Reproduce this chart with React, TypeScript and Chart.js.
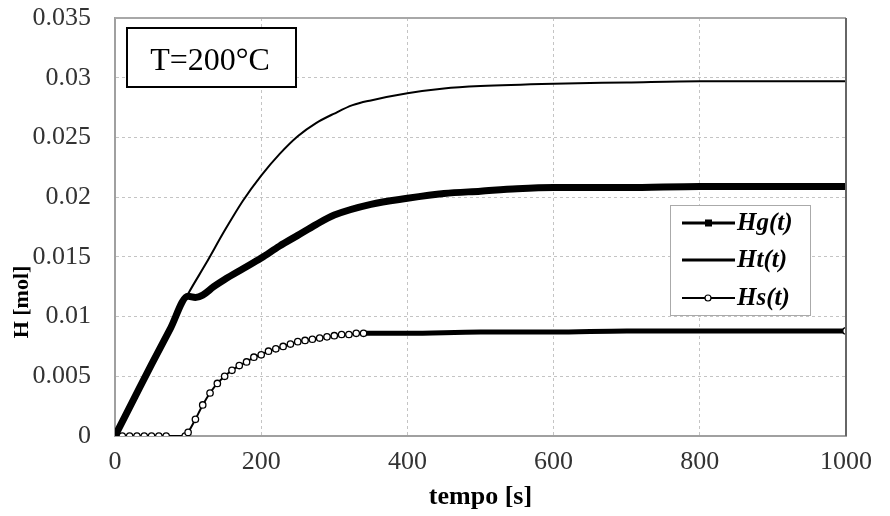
import { useEffect, useRef } from 'react';
import { Chart, registerables } from 'chart.js';

Chart.register(...registerables);

const FONT = "'Liberation Serif', 'Times New Roman', serif";

// ---- data ----
const tempoHg = [0, 25, 50, 75, 100, 110, 120, 135, 150, 175, 200, 225, 250, 275, 300, 350, 400, 450, 500, 550, 600, 700, 800, 900, 1000];
const hg = [0, 0.003, 0.006, 0.0089, 0.0117, 0.0116, 0.0118, 0.0125, 0.0131, 0.014, 0.0149, 0.0159, 0.0168, 0.0177, 0.0185, 0.0194, 0.0199, 0.0203, 0.0205, 0.0207, 0.0208, 0.0208, 0.0209, 0.0209, 0.0209];

const tempoHt = [0, 50, 100, 125, 150, 175, 200, 225, 250, 275, 300, 325, 350, 400, 450, 500, 600, 700, 800, 1000];
const ht = [0, 0.006, 0.0119, 0.0145, 0.0172, 0.0197, 0.0218, 0.0236, 0.0251, 0.0262, 0.027, 0.0277, 0.0281, 0.0287, 0.0291, 0.0293, 0.0295, 0.0296, 0.0297, 0.0297];

const tempoHs = [0, 10, 20, 30, 40, 50, 60, 70, 96, 100, 110, 120, 130, 140, 150, 160, 170, 180, 190, 200, 210, 220, 230, 240, 250, 260, 270, 280, 290, 300, 310, 320, 330, 340, 400, 500, 600, 700, 800, 900, 1000];
const hs = [0, 0, 0, 0, 0, 0, 0, 0, 0, 0.0003, 0.0014, 0.0026, 0.0036, 0.0044, 0.005, 0.0055, 0.0059, 0.0062, 0.0066, 0.0068, 0.0071, 0.0073, 0.0075, 0.0077, 0.0079, 0.008, 0.0081, 0.0082, 0.0083, 0.0084, 0.0085, 0.0085, 0.0086, 0.0086, 0.0086, 0.0087, 0.0087, 0.0088, 0.0088, 0.0088, 0.0088];

const xTicks = [0, 200, 400, 600, 800, 1000];
const yTicks = [0, 0.005, 0.01, 0.015, 0.02, 0.025, 0.03, 0.035];
const seriesNames = ['Hg(t)', 'Ht(t)', 'Hs(t)'];
const xTitle = 'tempo [s]';
const yTitle = 'H [mol]';
const annotation = 'T=200°C';

const toXY = (xs: number[], ys: number[]) => xs.map((x, i) => ({ x, y: ys[i] }));

const decorPlugin = {
  id: 'decor',
  beforeDraw(chart: any) {
    const { ctx } = chart;
    ctx.save();
    ctx.fillStyle = '#fff';
    ctx.fillRect(0, 0, chart.width, chart.height);
    ctx.restore();
  },
  afterDraw(chart: any) {
    const { ctx, chartArea: a } = chart;
    ctx.save();
    // top and right frame
    ctx.setLineDash([]);
    ctx.strokeStyle = '#a8a8a8';
    ctx.lineWidth = 2;
    ctx.beginPath();
    ctx.moveTo(a.left, a.top);
    ctx.lineTo(a.right, a.top);
    ctx.stroke();
    ctx.strokeStyle = '#666';
    ctx.beginPath();
    ctx.moveTo(a.right, a.top);
    ctx.lineTo(a.right, a.bottom);
    ctx.stroke();

    // y title
    ctx.save();
    ctx.translate(22, 302);
    ctx.rotate(-Math.PI / 2);
    ctx.fillStyle = '#000';
    ctx.font = `bold 22px ${FONT}`;
    ctx.textAlign = 'center';
    ctx.textBaseline = 'middle';
    ctx.fillText(yTitle, 0, 0);
    ctx.restore();

    // annotation box
    ctx.fillStyle = '#fff';
    ctx.fillRect(127, 28, 169, 59);
    ctx.strokeStyle = '#000';
    ctx.lineWidth = 2;
    ctx.strokeRect(127, 28, 169, 59);
    ctx.fillStyle = '#000';
    ctx.font = `32px ${FONT}`;
    ctx.textAlign = 'center';
    ctx.textBaseline = 'alphabetic';
    ctx.fillText(annotation, 210, 70);

    // legend box
    const lx = 670, ly = 205, lw = 140, lh = 110;
    ctx.fillStyle = '#fff';
    ctx.fillRect(lx, ly, lw, lh);
    ctx.strokeStyle = '#aaa';
    ctx.lineWidth = 1;
    ctx.strokeRect(lx + 0.5, ly + 0.5, lw, lh);
    const rows = [223, 260, 298];
    rows.forEach((ry, i) => {
      ctx.strokeStyle = '#000';
      ctx.lineWidth = i === 2 ? 2 : 3;
      ctx.beginPath();
      ctx.moveTo(682, ry);
      ctx.lineTo(735, ry);
      ctx.stroke();
      if (i === 0) {
        ctx.fillStyle = '#000';
        ctx.fillRect(705, ry - 3.5, 7, 7);
      } else if (i === 2) {
        ctx.fillStyle = '#fff';
        ctx.beginPath();
        ctx.arc(708, ry, 3, 0, Math.PI * 2);
        ctx.fill();
        ctx.lineWidth = 1.2;
        ctx.stroke();
      }
      ctx.fillStyle = '#000';
      ctx.font = `italic bold 25px ${FONT}`;
      ctx.textAlign = 'left';
      ctx.textBaseline = 'middle';
      ctx.fillText(seriesNames[i], 737, ry + 1);
    });
    ctx.restore();
  },
};

export default function App() {
  const ref = useRef<HTMLCanvasElement>(null);
  useEffect(() => {
    const chart = new Chart(ref.current!, {
      type: 'line',
      data: {
        datasets: [
          {
            label: seriesNames[2],
            data: toXY(tempoHs, hs),
            borderColor: '#000',
            borderWidth: 2,
            segment: {
              borderWidth: (c: any) => (c.p0.parsed.x >= 340 ? 5 : 2),
            },
            pointRadius: (c: any) => {
              const x = c.parsed?.x ?? 0;
              return x <= 340 || x === 1000 ? 3.2 : 0;
            },
            pointBackgroundColor: '#fff',
            pointBorderColor: '#000',
            pointBorderWidth: 1.3,
            cubicInterpolationMode: 'monotone',
            order: 3,
          } as any,
          {
            label: seriesNames[0],
            data: toXY(tempoHg, hg),
            borderColor: '#000',
            borderWidth: 7,
            pointRadius: 0,
            cubicInterpolationMode: 'monotone',
            order: 2,
          },
          {
            label: seriesNames[1],
            data: toXY(tempoHt, ht),
            borderColor: '#000',
            borderWidth: 2,
            pointRadius: 0,
            cubicInterpolationMode: 'monotone',
            order: 1,
          },
        ],
      },
      options: {
        responsive: false,
        devicePixelRatio: 1,
        animation: false,
        layout: { padding: { top: 18, right: 44, left: 0, bottom: 0 } },
        plugins: {
          legend: { display: false },
          tooltip: { enabled: false },
        },
        scales: {
          x: {
            type: 'linear',
            min: 0,
            max: 1000,
            afterBuildTicks: (s: any) => {
              s.ticks = xTicks.map((v) => ({ value: v }));
            },
            afterFit: (s: any) => {
              s.height = 80;
              s.paddingLeft = 0;
              s.paddingRight = 0;
            },
            ticks: {
              color: '#333',
              font: { family: FONT, size: 26 },
              padding: 11,
              maxRotation: 0,
              callback: (v: any) => String(v),
            },
            grid: { color: '#c4c4c4', lineWidth: 1, drawTicks: false },
            border: { display: true, color: '#a0a0a0', width: 2, dash: [3, 3] },
            title: {
              display: true,
              text: xTitle,
              color: '#000',
              font: { family: FONT, size: 26, weight: 'bold' },
              padding: { top: 0, bottom: 3 },
            },
          },
          y: {
            type: 'linear',
            min: 0,
            max: 0.035,
            afterBuildTicks: (s: any) => {
              s.ticks = yTicks.map((v) => ({ value: v }));
            },
            afterFit: (s: any) => {
              s.width = 115;
              s.paddingTop = 0;
              s.paddingBottom = 0;
            },
            ticks: {
              color: '#333',
              font: { family: FONT, size: 26 },
              padding: 24,
              callback: (v: any) => String(Number(Number(v).toFixed(3))),
            },
            grid: { color: '#c4c4c4', lineWidth: 1, drawTicks: false },
            border: { display: true, color: '#a0a0a0', width: 2, dash: [3, 3] },
          },
        },
      },
      plugins: [decorPlugin],
    } as any);
    return () => chart.destroy();
  }, []);
  return (
    <div style={{ position: 'absolute', left: 0, top: 0, width: 890, height: 516, background: '#fff' }}>
      <canvas ref={ref} width={890} height={516} style={{ display: 'block', width: 890, height: 516 }} />
    </div>
  );
}
